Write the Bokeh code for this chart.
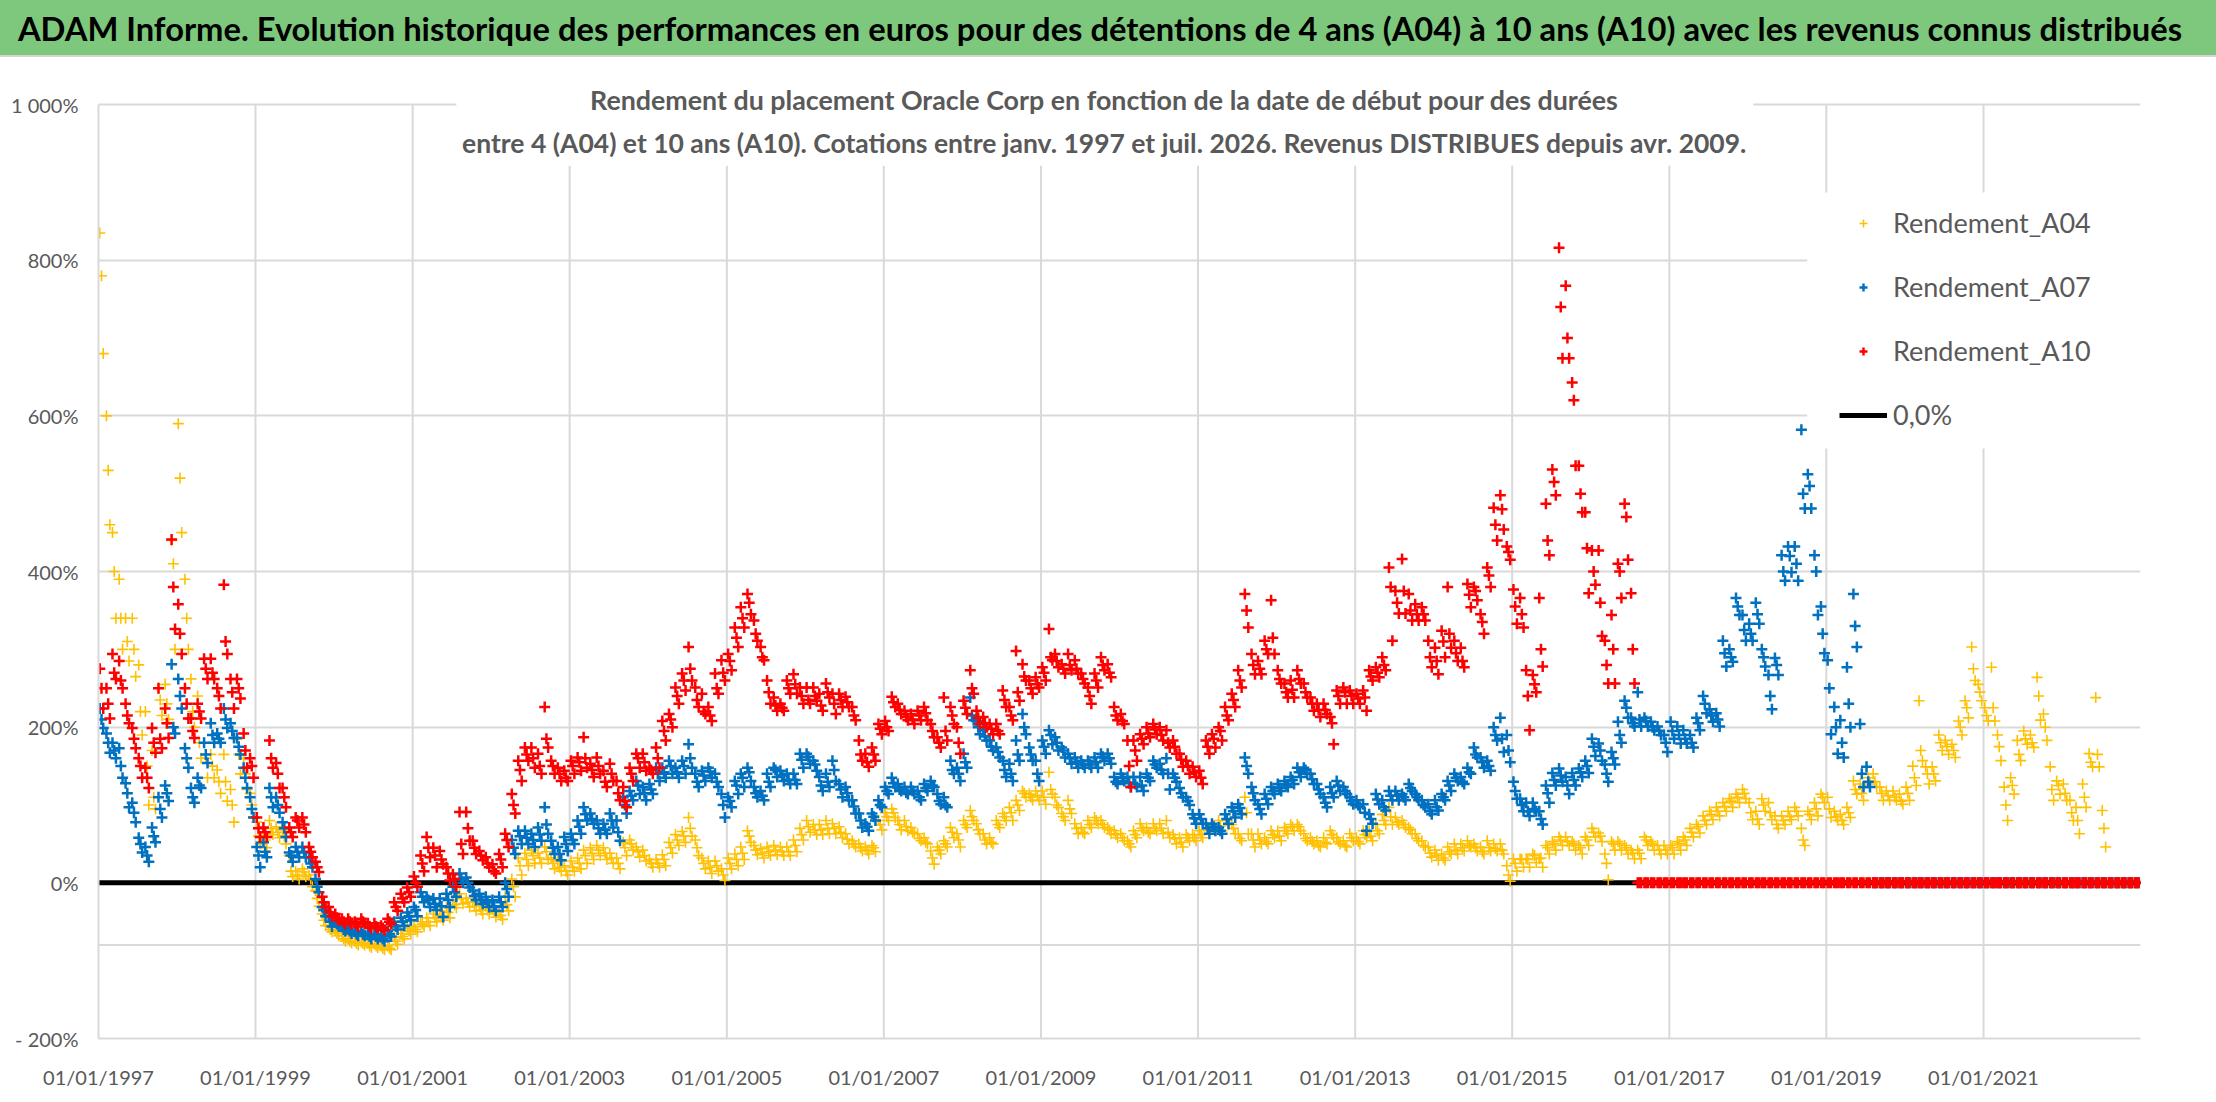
import datetime as dt
from bokeh.plotting import figure
from bokeh.models import (Range1d, FixedTicker, CustomJSTickFormatter, Legend, LegendItem,
                          Label, Span, Div)
from bokeh.layouts import column
from bokeh.embed import file_html
from bokeh.resources import INLINE

# ---------------------------------------------------------------- texts
TITLE = ("ADAM Informe. Evolution historique des performances en euros pour des "
         "détentions de 4 ans (A04) à 10 ans (A10) avec les revenus connus distribués")
SUBTITLE_1 = "Rendement du placement Oracle Corp en fonction de la date de début pour des durées"
SUBTITLE_2 = ("entre 4 (A04) et 10 ans (A10). Cotations entre janv. 1997 et juil. 2026. "
              "Revenus DISTRIBUES depuis avr. 2009.")
series_names = ["Rendement_A04", "Rendement_A07", "Rendement_A10"]
zero_label = "0,0%"

# ---------------------------------------------------------------- axes
x_tick_labels = ["01/01/1997", "01/01/1999", "01/01/2001", "01/01/2003", "01/01/2005",
                 "01/01/2007", "01/01/2009", "01/01/2011", "01/01/2013", "01/01/2015",
                 "01/01/2017", "01/01/2019", "01/01/2021"]
x_end_label = "01/01/2023"
y_ticks = [-200, 0, 200, 400, 600, 800, 1000]
y_tick_labels = ["- 200%", "0%", "200%", "400%", "600%", "800%", "1 000%"]
extra_gridline = [-80]

# ---------------------------------------------------------------- data (monthly, from Jan 1997, %)
# for each month: typical level, low and high of the cloud of daily points
first_month = (1997, 1)

rendement_a04 = [
    780, 530, 400, 340, 310, 300, 220, 150, 110, 235, 230, 410,   # 1997
    520, 340, 220, 180, 160, 150, 130, 130, 100, 165, 140, 100,   # 1998
    60, 55, 70, 65, 60, 15, 10, 14, 5, -20, -48, -60,             # 1999
    -65, -72, -75, -78, -78, -81, -81, -84, -84, -75, -69, -62,   # 2000
    -60, -53, -50, -45, -42, -38, -28, -20, -25, -30, -35, -35,   # 2001
    -38, -42, -28, -5, 22, 30, 35, 32, 40, 25, 20, 15,            # 2002
    20, 25, 35, 38, 42, 38, 32, 25, 45, 50, 40, 35,               # 2003
    25, 25, 30, 45, 55, 60, 70, 45, 25, 20, 22, 10,               # 2004
    25, 30, 38, 60, 42, 38, 40, 42, 40, 40, 48, 62,               # 2005
    72, 68, 68, 70, 70, 65, 56, 50, 45, 42, 45, 75,               # 2006
    85, 90, 75, 72, 65, 57, 52, 32, 42, 50, 65, 55,               # 2007
    75, 85, 68, 55, 52, 75, 85, 90, 100, 115, 110, 112,           # 2008
    110, 120, 100, 85, 95, 70, 65, 75, 80, 75, 68, 62,            # 2009
    58, 50, 62, 70, 65, 70, 70, 65, 57, 52, 58, 58,               # 2010
    62, 70, 70, 73, 80, 70, 57, 90, 55, 55, 53, 62,               # 2011
    60, 67, 72, 72, 57, 53, 48, 52, 62, 53, 48, 58,               # 2012
    53, 62, 60, 67, 80, 85, 78, 75, 68, 57, 48, 38,               # 2013
    35, 32, 40, 42, 45, 48, 45, 40, 45, 44, 42, 10,               # 2014
    25, 30, 30, 35, 32, 45, 50, 55, 53, 50, 45, 55,               # 2015
    65, 60, 25, 50, 50, 45, 38, 38, 55, 50, 42, 42,               # 2016
    45, 50, 55, 65, 72, 80, 88, 92, 98, 105, 110, 115,            # 2017
    90, 82, 100, 90, 75, 80, 85, 92, 55, 88, 95, 110,             # 2018
    95, 85, 80, 90, 120, 115, 135, 130, 115, 112, 110, 105,       # 2019
    115, 135, 170, 140, 140, 180, 175, 170, 200, 225, 275, 245,   # 2020
    215, 225, 175, 100, 125, 165, 185, 180, 240, 200, 120, 125,   # 2021
    115, 90, 80, 110, 155, 165, 70, 0, 0, 0, 0, 0,                # 2022
]
rendement_a04_low = [
    680, 460, 340, 300, 285, 265, 190, 100, 95, 215, 210, 300,
    450, 300, 200, 160, 135, 135, 115, 105, 78, 140, 120, 85,
    50, 45, 62, 58, 50, 8, 5, 8, -5, -30, -55, -63,
    -68, -75, -77, -80, -80, -83, -83, -86, -86, -79, -72, -66,
    -63, -56, -55, -50, -48, -45, -32, -27, -31, -36, -40, -40,
    -44, -47, -36, -18, 10, 22, 25, 25, 30, 18, 15, 10,
    15, 18, 25, 30, 35, 30, 25, 18, 35, 42, 33, 28,
    20, 20, 22, 38, 48, 52, 60, 35, 18, 12, 15, 3,
    18, 22, 30, 52, 36, 32, 35, 36, 35, 35, 40, 55,
    65, 62, 62, 63, 63, 58, 50, 46, 41, 37, 40, 68,
    80, 84, 68, 67, 63, 54, 50, 24, 37, 46, 58, 46,
    71, 80, 63, 50, 50, 71, 80, 80, 93, 110, 106, 106,
    101, 114, 97, 80, 89, 63, 63, 71, 76, 71, 63, 58,
    54, 46, 58, 67, 63, 67, 63, 58, 50, 46, 54, 54,
    58, 67, 67, 67, 75, 63, 54, 63, 46, 50, 50, 58,
    54, 63, 67, 67, 54, 50, 46, 50, 58, 50, 46, 54,
    50, 58, 54, 63, 75, 75, 75, 71, 63, 54, 46, 33,
    29, 29, 37, 37, 41, 46, 41, 37, 41, 41, 37, 2,
    15, 20, 20, 26, 20, 37, 42, 48, 48, 42, 37, 48,
    59, 53, 4, 42, 42, 37, 31, 31, 48, 42, 37, 37,
    37, 42, 48, 59, 64, 75, 81, 86, 92, 97, 103, 108,
    81, 75, 92, 81, 70, 75, 81, 86, 48, 81, 86, 103,
    84, 80, 75, 84, 114, 106, 127, 123, 106, 106, 106, 101,
    106, 125, 157, 127, 131, 170, 165, 161, 190, 212, 260, 234,
    208, 208, 157, 80, 114, 157, 178, 174, 209, 183, 106, 114,
    106, 80, 63, 97, 149, 149, 46, 0, 0, 0, 0, 0,
]
rendement_a04_high = [
    835, 600, 450, 390, 340, 340, 280, 220, 170, 250, 255, 440,
    590, 390, 262, 240, 180, 165, 145, 165, 120, 185, 160, 115,
    78, 65, 80, 72, 68, 35, 15, 18, 10, -10, -40, -55,
    -62, -68, -72, -75, -76, -78, -79, -81, -81, -70, -65, -58,
    -56, -50, -45, -40, -36, -32, -22, -14, -20, -25, -30, -30,
    -32, -36, -18, 5, 32, 38, 42, 38, 46, 32, 28, 22,
    28, 32, 42, 45, 48, 45, 38, 32, 52, 55, 46, 42,
    30, 30, 36, 52, 62, 66, 84, 55, 32, 28, 28, 18,
    32, 37, 46, 67, 48, 44, 46, 48, 46, 46, 55, 70,
    80, 75, 75, 80, 76, 72, 63, 54, 50, 46, 48, 80,
    90, 95, 80, 80, 71, 63, 58, 41, 46, 54, 71, 63,
    80, 93, 76, 63, 58, 80, 89, 97, 106, 118, 114, 118,
    118, 142, 110, 89, 106, 76, 71, 80, 84, 80, 71, 67,
    63, 54, 67, 76, 71, 76, 76, 80, 62, 58, 62, 62,
    67, 75, 75, 80, 88, 75, 63, 110, 63, 63, 58, 67,
    67, 71, 75, 75, 63, 58, 54, 58, 67, 58, 54, 63,
    58, 67, 67, 75, 88, 97, 84, 80, 71, 63, 54, 46,
    42, 37, 46, 50, 50, 54, 50, 46, 54, 50, 50, 22,
    31, 31, 31, 37, 31, 48, 53, 59, 59, 53, 48, 59,
    70, 64, 37, 53, 53, 48, 42, 42, 59, 53, 48, 48,
    48, 53, 59, 70, 75, 86, 92, 97, 103, 108, 114, 120,
    103, 92, 108, 103, 86, 86, 92, 97, 70, 92, 103, 114,
    110, 92, 88, 97, 131, 127, 149, 140, 123, 118, 118, 114,
    123, 150, 234, 149, 149, 190, 183, 178, 208, 234, 303, 255,
    225, 277, 190, 123, 135, 183, 195, 190, 264, 217, 149, 131,
    127, 106, 97, 127, 166, 238, 93, 0, 0, 0, 0, 0,
]

rendement_a07 = [
    210, 180, 170, 150, 115, 90, 50, 35, 60, 95, 115, 200,        # 1997
    240, 160, 110, 125, 165, 190, 185, 210, 195, 175, 135, 95,    # 1998
    35, 40, 110, 100, 70, 35, 40, 39, 25, -5, -35, -50,           # 1999
    -53, -60, -62, -66, -66, -69, -69, -72, -66, -56, -50, -43,   # 2000
    -35, -18, -22, -27, -30, -22, -12, 5, 0, -17, -22, -25,       # 2001
    -30, -25, -8, 45, 60, 58, 55, 62, 75, 45, 37, 50,             # 2002
    55, 72, 88, 82, 70, 68, 80, 65, 100, 112, 125, 115,           # 2003
    120, 140, 142, 150, 142, 150, 160, 130, 138, 143, 130, 100,   # 2004
    105, 125, 135, 142, 115, 112, 130, 145, 138, 132, 132, 158,   # 2005
    162, 152, 125, 130, 145, 120, 115, 98, 80, 72, 85, 100,       # 2006
    118, 128, 120, 116, 118, 110, 122, 125, 105, 100, 145, 140,   # 2007
    155, 215, 200, 188, 175, 168, 145, 140, 165, 200, 165, 140,   # 2008
    175, 190, 180, 170, 160, 155, 152, 152, 155, 162, 160, 130,   # 2009
    135, 128, 127, 125, 135, 152, 145, 140, 135, 115, 105, 83,    # 2010
    82, 70, 72, 67, 82, 92, 96, 150, 115, 95, 108, 118,           # 2011
    122, 126, 132, 142, 145, 133, 120, 103, 115, 125, 118, 105,   # 2012
    100, 90, 82, 107, 97, 112, 112, 110, 122, 110, 100, 92,       # 2013
    97, 110, 125, 135, 130, 142, 165, 155, 150, 190, 185, 170,    # 2014
    118, 100, 92, 95, 82, 115, 132, 138, 125, 132, 142, 150,      # 2015
    175, 170, 140, 160, 190, 225, 205, 210, 208, 200, 195, 180,   # 2016
    195, 190, 185, 180, 205, 230, 215, 210, 295, 290, 355, 325,   # 2017
    320, 345, 290, 240, 280, 400, 420, 410, 500, 510, 400, 320,   # 2018
    250, 200, 180, 230, 330, 140, 130, 0, 0, 0, 0, 0,             # 2019
    0, 0, 0, 0, 0, 0, 0, 0, 0, 0, 0, 0,                           # 2020
    0, 0, 0, 0, 0, 0, 0, 0, 0, 0, 0, 0,                           # 2021
    0, 0, 0, 0, 0, 0, 0, 0, 0, 0, 0, 0,                           # 2022
]
rendement_a07_low = [
    199, 167, 160, 135, 97, 78, 39, 27, 52, 84, 105, 192,
    224, 148, 103, 122, 154, 180, 180, 199, 186, 165, 122, 84,
    20, 33, 97, 90, 59, 27, 33, 33, 20, -12, -43, -56,
    -56, -62, -65, -68, -68, -72, -72, -75, -69, -60, -55, -48,
    -43, -25, -31, -35, -44, -31, -18, 0, -6, -22, -27, -31,
    -36, -31, -18, 37, 50, 50, 46, 54, 63, 37, 29, 41,
    50, 63, 80, 76, 63, 63, 71, 54, 89, 106, 114, 106,
    114, 131, 135, 140, 135, 140, 148, 123, 131, 135, 123, 84,
    97, 114, 123, 131, 110, 106, 123, 136, 131, 127, 127, 148,
    153, 144, 118, 123, 131, 110, 106, 89, 71, 67, 80, 97,
    114, 123, 118, 114, 114, 106, 118, 123, 101, 97, 140, 131,
    148, 209, 191, 183, 170, 161, 136, 131, 157, 191, 157, 131,
    166, 178, 170, 161, 153, 148, 148, 148, 148, 157, 153, 127,
    131, 123, 123, 118, 131, 148, 140, 120, 130, 110, 100, 76,
    76, 63, 67, 63, 76, 84, 88, 140, 106, 88, 101, 114,
    118, 123, 127, 136, 140, 127, 114, 97, 110, 118, 114, 101,
    97, 67, 76, 101, 93, 106, 106, 106, 118, 106, 97, 88,
    93, 106, 118, 131, 127, 140, 161, 148, 144, 183, 168, 155,
    108, 92, 86, 92, 75, 103, 125, 130, 114, 125, 136, 141,
    163, 157, 130, 152, 180, 212, 201, 201, 201, 196, 190, 168,
    185, 179, 179, 174, 196, 218, 207, 201, 278, 284, 344, 311,
    311, 333, 278, 223, 267, 388, 399, 388, 481, 481, 344, 295,
    191, 166, 161, 200, 303, 123, 123, 0, 0, 0, 0, 0,
    0, 0, 0, 0, 0, 0, 0, 0, 0, 0, 0, 0,
    0, 0, 0, 0, 0, 0, 0, 0, 0, 0, 0, 0,
    0, 0, 0, 0, 0, 0, 0, 0, 0, 0, 0, 0,
]
rendement_a07_high = [
    224, 192, 180, 173, 128, 103, 58, 46, 71, 110, 125, 281,
    262, 173, 122, 135, 180, 205, 192, 224, 205, 186, 148, 110,
    46, 52, 122, 110, 78, 39, 46, 46, 33, 5, -31, -43,
    -50, -56, -59, -63, -63, -66, -66, -69, -62, -50, -45, -38,
    -31, -12, -18, -20, -20, -14, -5, 12, 7, -10, -14, -18,
    -22, -18, 0, 55, 67, 67, 63, 71, 97, 54, 46, 59,
    63, 80, 97, 89, 80, 76, 89, 80, 110, 118, 131, 123,
    127, 148, 148, 157, 148, 157, 178, 140, 144, 148, 140, 114,
    110, 131, 140, 148, 123, 118, 140, 148, 144, 140, 140, 166,
    166, 157, 136, 140, 157, 127, 123, 106, 89, 76, 89, 106,
    123, 135, 127, 123, 123, 118, 127, 131, 114, 110, 157, 148,
    166, 238, 208, 196, 183, 174, 157, 153, 183, 217, 174, 157,
    183, 196, 187, 174, 166, 161, 157, 157, 161, 166, 166, 136,
    140, 136, 136, 136, 140, 157, 153, 160, 140, 122, 110, 88,
    88, 76, 76, 71, 88, 97, 101, 161, 123, 101, 114, 123,
    127, 131, 136, 148, 148, 140, 127, 110, 123, 131, 123, 110,
    106, 101, 88, 114, 106, 118, 118, 114, 127, 114, 106, 101,
    106, 114, 131, 140, 136, 148, 174, 161, 157, 200, 212, 190,
    130, 108, 103, 103, 92, 125, 141, 147, 136, 141, 147, 157,
    185, 179, 152, 168, 207, 234, 212, 245, 212, 207, 201, 190,
    207, 201, 196, 190, 212, 240, 223, 218, 311, 300, 366, 344,
    333, 360, 300, 267, 289, 421, 432, 432, 582, 525, 421, 355,
    286, 226, 209, 277, 371, 204, 149, 0, 0, 0, 0, 0,
    0, 0, 0, 0, 0, 0, 0, 0, 0, 0, 0, 0,
    0, 0, 0, 0, 0, 0, 0, 0, 0, 0, 0, 0,
    0, 0, 0, 0, 0, 0, 0, 0, 0, 0, 0, 0,
]

rendement_a10 = [
    250, 230, 270, 260, 215, 185, 150, 135, 180, 185, 205, 380,   # 1997
    320, 230, 195, 220, 275, 270, 240, 310, 245, 250, 170, 150,   # 1998
    70, 65, 160, 140, 110, 65, 80, 75, 40, 20, -25, -38,          # 1999
    -45, -50, -50, -53, -50, -56, -56, -58, -50, -31, -20, -12,   # 2000
    0, 25, 45, 35, 30, 12, 5, 50, 70, 45, 35, 25,                 # 2001
    15, 30, 55, 100, 145, 165, 160, 150, 185, 150, 140, 135,      # 2002
    150, 155, 160, 145, 150, 130, 140, 115, 105, 140, 160, 155,   # 2003
    145, 160, 195, 210, 240, 260, 275, 235, 220, 215, 250, 270,   # 2004
    285, 315, 340, 360, 320, 290, 245, 228, 225, 250, 255, 240,   # 2005
    235, 240, 228, 245, 230, 235, 232, 215, 165, 155, 165, 198,   # 2006
    200, 232, 222, 213, 210, 215, 218, 195, 180, 195, 215, 180,   # 2007
    225, 250, 212, 205, 198, 195, 235, 215, 245, 265, 250, 255,   # 2008
    270, 290, 285, 275, 280, 275, 262, 240, 260, 280, 270, 215,   # 2009
    208, 150, 170, 185, 192, 197, 190, 180, 175, 158, 150, 142,   # 2010
    135, 175, 185, 195, 215, 235, 260, 350, 280, 275, 300, 315,   # 2011
    262, 245, 248, 262, 245, 230, 222, 222, 205, 240, 245, 240,   # 2012
    237, 238, 265, 270, 280, 380, 360, 375, 350, 345, 345, 290,   # 2013
    285, 310, 320, 295, 285, 370, 375, 335, 395, 460, 480, 425,   # 2014
    355, 345, 240, 255, 300, 440, 515, 740, 700, 620, 500, 430,   # 2015
    400, 360, 280, 300, 400, 470, 300, 0, 0, 0, 0, 0,             # 2016
    0, 0, 0, 0, 0, 0, 0, 0, 0, 0, 0, 0,                           # 2017
    0, 0, 0, 0, 0, 0, 0, 0, 0, 0, 0, 0,                           # 2018
    0, 0, 0, 0, 0, 0, 0, 0, 0, 0, 0, 0,                           # 2019
    0, 0, 0, 0, 0, 0, 0, 0, 0, 0, 0, 0,                           # 2020
    0, 0, 0, 0, 0, 0, 0, 0, 0, 0, 0, 0,                           # 2021
    0, 0, 0, 0, 0, 0, 0, 0, 0, 0, 0, 0,                           # 2022
]
rendement_a10_low = [
    224, 211, 262, 250, 205, 173, 135, 122, 167, 173, 186, 326,
    294, 211, 186, 211, 262, 262, 224, 294, 224, 237, 148, 135,
    59, 59, 148, 122, 97, 59, 71, 65, 33, 14, -31, -43,
    -48, -53, -53, -56, -53, -58, -58, -61, -53, -36, -25, -18,
    -5, 15, 33, 20, 24, 3, -5, 37, 54, 37, 29, 20,
    12, 20, 46, 89, 131, 157, 148, 140, 174, 140, 131, 131,
    140, 144, 148, 136, 140, 123, 131, 106, 97, 131, 148, 144,
    140, 148, 183, 200, 230, 247, 260, 226, 217, 208, 243, 260,
    273, 303, 328, 345, 311, 286, 230, 221, 221, 243, 243, 230,
    230, 234, 221, 238, 217, 226, 226, 209, 157, 149, 157, 191,
    195, 226, 217, 209, 204, 209, 209, 187, 174, 183, 204, 166,
    217, 243, 204, 200, 191, 191, 226, 209, 234, 260, 243, 251,
    260, 286, 277, 269, 273, 269, 256, 230, 251, 273, 264, 209,
    204, 123, 157, 178, 187, 191, 183, 174, 166, 149, 140, 136,
    127, 166, 174, 183, 209, 226, 251, 328, 268, 268, 294, 294,
    256, 238, 238, 256, 238, 221, 213, 217, 178, 230, 230, 230,
    230, 221, 260, 264, 273, 311, 346, 346, 337, 337, 337, 277,
    268, 290, 302, 285, 277, 354, 363, 320, 380, 440, 454, 415,
    333, 328, 196, 245, 278, 421, 498, 674, 674, 536, 476, 372,
    383, 317, 256, 256, 366, 415, 256, 0, 0, 0, 0, 0,
    0, 0, 0, 0, 0, 0, 0, 0, 0, 0, 0, 0,
    0, 0, 0, 0, 0, 0, 0, 0, 0, 0, 0, 0,
    0, 0, 0, 0, 0, 0, 0, 0, 0, 0, 0, 0,
    0, 0, 0, 0, 0, 0, 0, 0, 0, 0, 0, 0,
    0, 0, 0, 0, 0, 0, 0, 0, 0, 0, 0, 0,
    0, 0, 0, 0, 0, 0, 0, 0, 0, 0, 0, 0,
]
rendement_a10_high = [
    275, 250, 294, 285, 230, 199, 160, 148, 199, 250, 224, 441,
    358, 250, 211, 230, 288, 288, 250, 383, 262, 262, 192, 160,
    84, 71, 183, 154, 122, 71, 84, 84, 46, 27, -18, -31,
    -40, -46, -46, -50, -46, -52, -52, -55, -46, -25, -14, -6,
    8, 35, 59, 45, 41, 20, 11, 91, 91, 54, 41, 33,
    24, 37, 63, 114, 157, 174, 174, 166, 226, 157, 148, 144,
    157, 161, 187, 153, 161, 144, 153, 131, 123, 148, 166, 166,
    148, 174, 208, 217, 251, 269, 303, 251, 243, 226, 269, 286,
    294, 328, 354, 371, 337, 303, 260, 238, 230, 260, 268, 251,
    251, 251, 243, 256, 243, 243, 239, 226, 183, 166, 174, 204,
    208, 239, 230, 221, 217, 221, 226, 204, 187, 238, 226, 200,
    234, 273, 221, 213, 204, 204, 247, 226, 298, 281, 260, 264,
    277, 326, 294, 281, 294, 286, 269, 251, 269, 290, 281, 226,
    217, 183, 183, 191, 200, 204, 200, 196, 183, 166, 157, 149,
    144, 183, 191, 200, 226, 243, 273, 371, 294, 285, 311, 363,
    273, 256, 260, 273, 256, 238, 230, 230, 213, 247, 251, 247,
    243, 247, 273, 277, 290, 405, 375, 416, 371, 358, 354, 311,
    302, 324, 380, 311, 302, 384, 380, 345, 405, 482, 498, 432,
    377, 366, 273, 267, 366, 487, 531, 816, 767, 643, 536, 476,
    427, 427, 311, 344, 410, 487, 372, 0, 0, 0, 0, 0,
    0, 0, 0, 0, 0, 0, 0, 0, 0, 0, 0, 0,
    0, 0, 0, 0, 0, 0, 0, 0, 0, 0, 0, 0,
    0, 0, 0, 0, 0, 0, 0, 0, 0, 0, 0, 0,
    0, 0, 0, 0, 0, 0, 0, 0, 0, 0, 0, 0,
    0, 0, 0, 0, 0, 0, 0, 0, 0, 0, 0, 0,
    0, 0, 0, 0, 0, 0, 0, 0, 0, 0, 0, 0,
]

zero_line_dates = ["01/01/1997", "01/01/2023"]
zero_line_values = [0.0, 0.0]

# ---------------------------------------------------------------- helpers / style
FONT = "Lato"
GREEN = "#7DC87D"
GRID = "#D9D9D9"
GREY_TEXT = "#595959"
C04, C07, C10 = "#FFC000", "#0070C0", "#FF0000"
W, H_HEAD, H_CHART = 2216, 57, 1043


def parse(s):
    return dt.datetime.strptime(s, "%d/%m/%Y")


def month_dates(n, day):
    y0, m0 = first_month
    return [dt.datetime(y0 + (m0 - 1 + i) // 12, (m0 - 1 + i) % 12 + 1, day) for i in range(n)]


def ms(d):
    return (d - dt.datetime(1970, 1, 1)).total_seconds() * 1000.0


def cloud(mid, low, high):
    xs = month_dates(len(high), 7) + month_dates(len(mid), 15) + month_dates(len(low), 23)
    return xs, list(high) + list(mid) + list(low)


x_ticks = [parse(s) for s in x_tick_labels]
x_start, x_end = x_ticks[0], parse(x_end_label)

# ---------------------------------------------------------------- title bar (green band)
head = Div(text=TITLE, width=W, height=H_HEAD, margin=(0, 0, 0, 0),
           styles={"background-color": GREEN, "color": "#000000",
                   "font-family": FONT, "font-weight": "bold", "font-size": "32.7px",
                   "text-align": "center", "line-height": "%dpx" % H_HEAD,
                   "white-space": "nowrap", "overflow": "hidden",
                   "border-bottom": "2px solid #D4D4D4", "box-sizing": "border-box",
                   "padding-right": "16px"})

# ---------------------------------------------------------------- chart
p = figure(width=W, height=H_CHART, x_axis_type="datetime",
           x_range=Range1d(x_start, x_end), y_range=Range1d(-200, 1054),
           toolbar_location=None, output_backend="svg",
           min_border_left=98, min_border_right=76, min_border_top=5, min_border_bottom=62)
p.outline_line_color = None
p.background_fill_color = "white"
p.border_fill_color = "white"

p.xgrid.visible = False
p.yaxis.ticker = FixedTicker(ticks=y_ticks)
p.ygrid.ticker = FixedTicker(ticks=y_ticks)
p.ygrid.grid_line_color = GRID
p.ygrid.grid_line_width = 2
p.yaxis.major_label_overrides = {t: lab for t, lab in zip(y_ticks, y_tick_labels)}
p.yaxis.bounds = (y_ticks[0], y_ticks[-1])

p.xaxis.ticker = FixedTicker(ticks=[ms(d) for d in x_ticks])
p.xaxis.formatter = CustomJSTickFormatter(code="""
const d = new Date(tick);
const dd = String(d.getUTCDate()).padStart(2, '0');
const mm = String(d.getUTCMonth() + 1).padStart(2, '0');
return dd + '/' + mm + '/' + d.getUTCFullYear();
""")

for ax in (p.xaxis[0], p.yaxis[0]):
    ax.axis_line_color = GRID
    ax.axis_line_width = 2
    ax.major_tick_line_color = None
    ax.minor_tick_line_color = None
    ax.major_tick_out = 0
    ax.major_tick_in = 0
    ax.minor_tick_out = 0
    ax.major_label_text_font = FONT
    ax.major_label_text_font_size = "20px"
    ax.major_label_text_color = GREY_TEXT
p.xaxis.major_label_standoff = 26
p.yaxis.major_label_standoff = 20

# vertical grid lines (stop at the 1000 % line)
p.segment(x0=x_ticks[1:], y0=[y_ticks[0]] * (len(x_ticks) - 1),
          x1=x_ticks[1:], y1=[y_ticks[-1]] * (len(x_ticks) - 1),
          line_color=GRID, line_width=2, level="underlay")
for v in extra_gridline:
    p.add_layout(Span(location=v, dimension="width", line_color=GRID, line_width=2,
                      level="underlay"))

# zero line
r0 = p.line([parse(s) for s in zero_line_dates], zero_line_values,
            line_color="black", line_width=5)

# series
x04, y04 = cloud(rendement_a04, rendement_a04_low, rendement_a04_high)
x07, y07 = cloud(rendement_a07, rendement_a07_low, rendement_a07_high)
x10, y10 = cloud(rendement_a10, rendement_a10_low, rendement_a10_high)
r04 = p.scatter(x04, y04, marker="cross", size=11, line_color=C04, line_width=1.6)
r07 = p.scatter(x07, y07, marker="cross", size=11, line_color=C07, line_width=2.5)
r10 = p.scatter(x10, y10, marker="cross", size=11, line_color=C10, line_width=2.5)

# white boxes behind the subtitle and the legend (cover grid lines)
p.quad(left=[dt.datetime(2001, 7, 23)], right=[dt.datetime(2018, 1, 26)],
       bottom=[921.5], top=[1054], fill_color="white", line_color=None, level="guide")
p.quad(left=[dt.datetime(2018, 10, 4)], right=[x_end],
       bottom=[558], top=[887], fill_color="white", line_color=None, level="guide")

# subtitle
sub_x = dt.datetime(2009, 10, 22)
p.add_layout(Label(x=sub_x, y=1006, text=SUBTITLE_1, text_align="center",
                   text_baseline="middle", text_font=FONT, text_font_style="bold",
                   text_font_size="26.8px", text_color=GREY_TEXT))
p.add_layout(Label(x=sub_x, y=951, text=SUBTITLE_2, text_align="center",
                   text_baseline="middle", text_font=FONT, text_font_style="bold",
                   text_font_size="26.5px", text_color=GREY_TEXT))

# legend
legend = Legend(items=[LegendItem(label=series_names[0], renderers=[r04]),
                       LegendItem(label=series_names[1], renderers=[r07]),
                       LegendItem(label=series_names[2], renderers=[r10]),
                       LegendItem(label=zero_label, renderers=[r0])],
                location=(1741, 607), orientation="vertical",
                background_fill_alpha=0, border_line_color=None,
                label_text_font=FONT, label_text_font_size="27px",
                label_text_color=GREY_TEXT,
                glyph_width=48, glyph_height=20, label_height=20,
                spacing=31, padding=10, label_standoff=6, margin=0)
p.add_layout(legend)

layout = column(head, p)
open("out.html", "w").write(file_html(layout, INLINE, title="ADAM Informe - Oracle Corp"))
